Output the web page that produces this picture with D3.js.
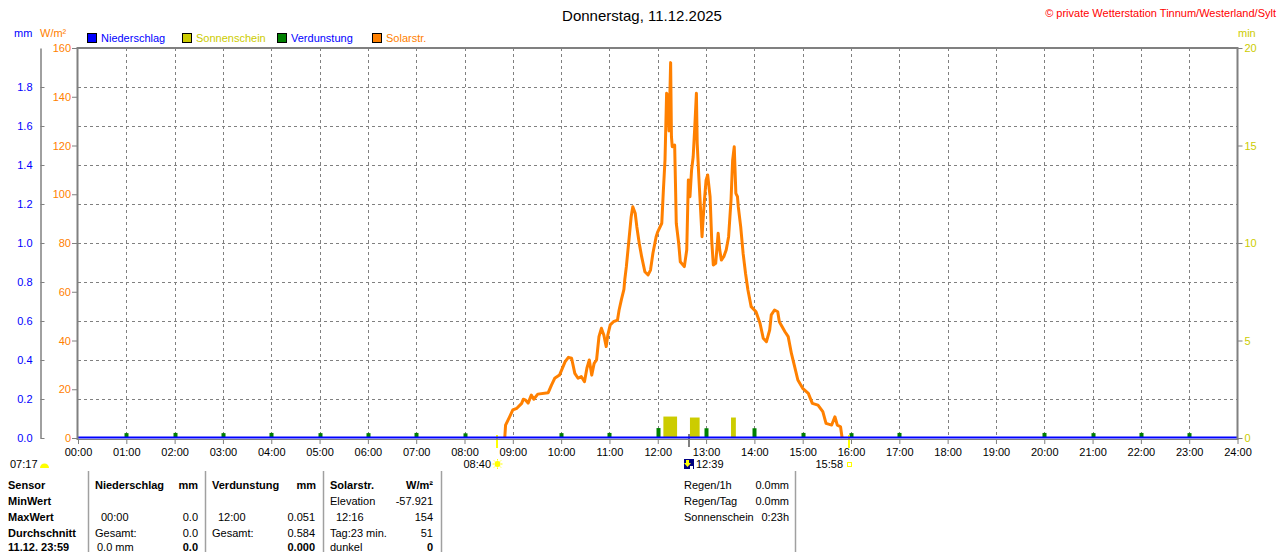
<!DOCTYPE html>
<html><head><meta charset="utf-8">
<script src="https://cdn.jsdelivr.net/npm/d3@7"></script>
<style>
body{margin:0;background:#fff;}
svg{display:block;font-family:"Liberation Sans",Arial,sans-serif;font-size:11px;}
</style>
</head><body>
<svg id="c" width="1280" height="552"></svg>
<script>
// ---------- DATA ----------
const title = "Donnerstag, 11.12.2025";
const copyright = "© private Wetterstation Tinnum/Westerland/Sylt";
const hourLabels = d3.range(0, 25).map(h => String(h).padStart(2, "0") + ":00");
const mmTicks = [0, 0.2, 0.4, 0.6, 0.8, 1.0, 1.2, 1.4, 1.6, 1.8];
const solarTicks = [0, 20, 40, 60, 80, 100, 120, 140, 160];
const minTicks = [0, 5, 10, 15, 20];
const legendNames = ["Niederschlag", "Sonnenschein", "Verdunstung", "Solarstr."];

const solarTimes = ["08:50","08:51","08:56","09:00","09:05","09:11","09:13","09:16","09:19","09:23","09:26","09:31","09:44","09:48","09:52","09:58",
"10:05","10:09","10:13","10:17","10:21","10:25","10:29","10:32","10:35","10:38","10:41","10:44","10:47","10:50","10:53","10:56","10:58",
"11:01","11:05","11:10","11:12","11:15","11:18","11:19","11:21","11:23","11:27","11:29","11:32","11:34","11:37","11:40","11:44","11:48","11:51","11:54","11:58",
"12:00","12:05","12:07","12:09","12:11","12:13","12:14","12:16","12:17","12:18","12:21","12:22","12:23","12:26","12:28","12:33","12:36","12:38","12:40","12:42","12:44","12:46","12:48","12:49","12:51","12:53","12:55","12:56","12:58",
"13:00","13:02","13:05","13:07","13:09","13:12","13:15","13:17","13:19","13:22","13:25","13:28","13:31","13:33","13:35","13:37","13:39","13:40","13:43","13:46","13:49","13:52","13:56",
"14:02","14:07","14:11","14:15","14:19","14:21","14:25","14:29","14:31","14:38","14:42","14:46","14:50","14:54",
"15:00","15:07","15:12","15:19","15:25","15:29","15:36","15:40","15:43","15:47","15:49"];
const solarValues = [0,5.3,8.7,11.5,12.2,14.2,15.9,15.5,14.3,17.6,15.9,18.0,18.6,21.7,24.5,25.8,
31.3,33.1,32.7,26.5,24.5,25.2,23.1,28.6,32.0,25.8,30.6,32.0,41.6,45.0,42.3,37.5,42.3,
46.4,47.7,48.4,52.5,57.0,61.0,64.8,70.3,77.1,90.8,94.9,92.2,86.7,79.9,74.4,68.2,66.9,68.9,75.8,82.6,
84.6,88.1,101.7,114.0,141.4,140.0,126.0,154.0,123.6,119.5,120.2,104.5,88.1,79.9,72.3,70.3,77.1,105.8,99.0,109.9,115.4,127.7,141.4,120.9,107.2,94.9,82.6,88.1,97.6,
105.8,107.9,99.0,81.2,71.0,71.7,84.0,77.1,73.0,74.4,77.1,82.6,97.6,114.0,119.5,100.4,99.0,94.9,86.7,75.8,67.6,60.7,53.9,
51.8,47.1,40.9,39.5,44.3,50.5,52.5,51.8,47.7,43.6,41.6,34.7,29.3,23.8,
20.4,18.3,14.2,13.5,10.8,6.0,5.3,8.7,5.3,4.6,0];

const sunStart = ["12:07", "12:40", "13:31"];
const sunEnd = ["12:24", "12:52", "13:37"];
const sunValues = [1.1, 1.05, 1.05];

const evapTimes = ["01:00","02:00","03:00","04:00","05:00","06:00","07:00","08:00","10:00","11:00","12:00","13:00","14:00","15:00","16:00","17:00","20:00","21:00","22:00","23:00"];
const evapValues = [0.025,0.026,0.025,0.026,0.025,0.025,0.026,0.024,0.025,0.026,0.051,0.050,0.050,0.026,0.025,0.026,0.026,0.025,0.026,0.025];

const sunrise = "08:40", sunset = "15:58", solarNoon = "12:39", moonTime = "07:17";

const sensorRows = ["Sensor", "MinWert", "MaxWert", "Durchschnitt", "11.12. 23:59"];
const niederRows = [["",""],["00:00","0.0"],["Gesamt:","0.0"],["0.0 mm","0.0"]];
const verdRows = [["",""],["12:00","0.051"],["Gesamt:","0.584"],["","0.000"]];
const solarRows = [["Elevation","-57.921"],["12:16","154"],["Tag:23 min.","51"],["dunkel","0"]];
const infoRows = [["Regen/1h","0.0mm"],["Regen/Tag","0.0mm"],["Sonnenschein","0:23h"]];

// ---------- SETUP ----------
const C = {orange:"#ff8000", yellow:"#cccc00", green:"#008000", blue:"#0000ff", grey:"#808080", red:"#ff0000"};
const t2h = s => { const [h, m] = s.split(":").map(Number); return h + m / 60; };
const svg = d3.select("#c");
const X0 = 78, X1 = 1237.5, Y0 = 438, Y1 = 48;
const x = d3.scaleLinear().domain([0, 24]).range([X0, X1]);
const yMM = d3.scaleLinear().domain([0, 2]).range([Y0, Y1]);
const ySol = d3.scaleLinear().domain([0, 160]).range([Y0, Y1]);
const yMin = d3.scaleLinear().domain([0, 20]).range([Y0, Y1]);

// title & header
svg.append("text").attr("x", 642).attr("y", 21).attr("text-anchor", "middle").style("font-size", "15px").attr("fill", "#000").text(title);
svg.append("text").attr("x", 1276).attr("y", 17).attr("text-anchor", "end").attr("fill", C.red).text(copyright);
svg.append("text").attr("x", 14).attr("y", 37).attr("fill", C.blue).text("mm");
svg.append("text").attr("x", 40).attr("y", 37).attr("fill", C.orange).text("W/m²");
svg.append("text").attr("x", 1238).attr("y", 37).attr("fill", C.yellow).text("min");

// legend
const legColors = [C.blue, C.yellow, C.green, C.orange];
const legText = [C.blue, C.yellow, C.blue, C.orange];
legendNames.forEach((n, i) => {
  const lx = 87 + i * 95;
  svg.append("rect").attr("x", lx + 0.5).attr("y", 33.5).attr("width", 9).attr("height", 9).attr("fill", legColors[i]).attr("stroke", "#000").attr("stroke-width", 1);
  svg.append("text").attr("x", lx + 14).attr("y", 42).attr("fill", legText[i]).text(n);
});

// grid
const grid = svg.append("g").attr("stroke", C.grey).attr("stroke-dasharray", "3,3").attr("stroke-width", 1).attr("shape-rendering", "crispEdges");
mmTicks.filter(v => v > 0).forEach(v => grid.append("line").attr("x1", X0).attr("x2", X1).attr("y1", Math.round(yMM(v)) + 0.5).attr("y2", Math.round(yMM(v)) + 0.5));
d3.range(1, 24).forEach(h => grid.append("line").attr("x1", Math.round(x(h)) + 0.5).attr("x2", Math.round(x(h)) + 0.5).attr("y1", Y1).attr("y2", Y0));

// sunshine bars
svg.append("g").selectAll("rect").data(sunStart).join("rect")
  .attr("x", (d, i) => x(t2h(d))).attr("width", (d, i) => x(t2h(sunEnd[i])) - x(t2h(d)))
  .attr("y", (d, i) => yMin(sunValues[i])).attr("height", (d, i) => Y0 - yMin(sunValues[i]))
  .attr("fill", C.yellow);

// evaporation markers
svg.append("g").selectAll("rect").data(evapTimes).join("rect")
  .attr("x", d => Math.round(x(t2h(d))) - 1.5).attr("width", 4)
  .attr("y", (d, i) => yMM(evapValues[i])).attr("height", (d, i) => Y0 - yMM(evapValues[i]))
  .attr("fill", C.green);

// solar line
const solarData = solarTimes.map((t, i) => [t2h(t), solarValues[i]]);
svg.append("path").datum(solarData)
  .attr("d", d3.line().x(d => x(d[0])).y(d => ySol(d[1])))
  .attr("fill", "none").attr("stroke", C.orange).attr("stroke-width", 3).attr("stroke-linejoin", "round");

// sunrise/sunset/noon markers
[sunrise, sunset].forEach(t =>
  svg.append("rect").attr("x", Math.round(x(t2h(t))) - 1).attr("y", 435).attr("width", 2).attr("height", 13).attr("fill", "#ffff00"));
svg.append("rect").attr("x", Math.round(x(t2h(solarNoon))) - 1).attr("y", 434).attr("width", 2).attr("height", 13).attr("fill", C.grey);

// baselines and border
svg.append("line").attr("x1", X0).attr("x2", X1).attr("y1", 439.5).attr("y2", 439.5).attr("stroke", C.grey).attr("stroke-width", 1);
svg.append("line").attr("x1", X0).attr("x2", X1).attr("y1", 437.5).attr("y2", 437.5).attr("stroke", C.blue).attr("stroke-width", 2);
svg.append("path").attr("d", `M${X0 - 0.5},${Y0 + 2}V${Y1}H${X1}V${Y0 + 2}`).attr("fill", "none").attr("stroke", C.grey).attr("stroke-width", 2);

// axes
function styleAxis(g, color) {
  g.attr("font-family", null).attr("font-size", null);
  g.selectAll("text").attr("fill", color).style("font-size", "11px");
  g.selectAll("line").attr("stroke", C.grey);
  g.select(".domain").attr("stroke", C.grey);
}
const axMM = svg.append("g").attr("transform", "translate(40.5,0)")
  .call(d3.axisLeft(yMM).tickValues(mmTicks).tickFormat(d3.format(".1f")).tickSizeInner(-4).tickSizeOuter(0).tickPadding(8));
styleAxis(axMM, C.blue);
axMM.select(".domain").attr("stroke-width", 1.5);

const axSol = svg.append("g").attr("transform", "translate(78,0)")
  .call(d3.axisLeft(ySol).tickValues(solarTicks).tickSize(6).tickPadding(1));
styleAxis(axSol, C.orange);
axSol.select(".domain").remove();

const axMin = svg.append("g").attr("transform", "translate(1237.5,0)")
  .call(d3.axisRight(yMin).tickValues(minTicks).tickSize(5).tickPadding(2));
styleAxis(axMin, C.yellow);
axMin.select(".domain").remove();

const axX = svg.append("g").attr("transform", "translate(0,439)")
  .call(d3.axisBottom(x).tickValues(d3.range(0, 25)).tickFormat(d => hourLabels[d]).tickSize(5).tickPadding(4));
styleAxis(axX, "#000");
axX.select(".domain").remove();

// sub-axis row
svg.append("text").attr("x", 10).attr("y", 468).text(moonTime);
svg.append("path").attr("d", "M40,468 A4.5,4.5 0 0 1 49,468 Z").attr("fill", "#ffff00");
svg.append("text").attr("x", 491).attr("y", 468).attr("text-anchor", "end").text(sunrise);
const sx = 497.5, sy = 464;
svg.append("circle").attr("cx", sx).attr("cy", sy).attr("r", 3).attr("fill", "#ffff00");
d3.range(8).forEach(k => { const a = k * Math.PI / 4;
  svg.append("line").attr("x1", sx + Math.cos(a) * 3.5).attr("y1", sy + Math.sin(a) * 3.5).attr("x2", sx + Math.cos(a) * 5).attr("y2", sy + Math.sin(a) * 5).attr("stroke", "#ffff00").attr("stroke-width", 1); });
svg.append("rect").attr("x", 684).attr("y", 459).attr("width", 10).attr("height", 10).attr("fill", "#000080");
svg.append("path").attr("d", "M686,460 h3 v3 h2 l-3.5,4 l-3.5,-4 h2 z").attr("fill", "#ffff00");
svg.append("rect").attr("x", 690).attr("y", 466).attr("width", 3).attr("height", 3).attr("fill", "#fff");
svg.append("text").attr("x", 696).attr("y", 468).text(solarNoon);
svg.append("text").attr("x", 843).attr("y", 468).attr("text-anchor", "end").text(sunset);
svg.append("rect").attr("x", 847.5).attr("y", 462.5).attr("width", 4).attr("height", 4).attr("fill", "none").attr("stroke", "#ffff00");

// table
const sep = svg.append("g").attr("stroke", "#a0a0a0").attr("stroke-width", 1.5);
[88.5, 205.5, 323.5, 441.5, 795.5].forEach(sx2 => sep.append("line").attr("x1", sx2).attr("x2", sx2).attr("y1", 471).attr("y2", 552));
const rowY = [489, 505, 521, 537, 551];
const T = (xx, yy, s, o = {}) => svg.append("text").attr("x", xx).attr("y", yy)
  .attr("text-anchor", o.end ? "end" : "start").attr("font-weight", o.bold ? "bold" : "normal").attr("fill", "#000").text(s);
sensorRows.forEach((s, i) => T(8, rowY[i], s, {bold: true}));
T(95, rowY[0], "Niederschlag", {bold: true}); T(198, rowY[0], "mm", {bold: true, end: true});
niederRows.forEach((r, i) => { if (r[0]) T(i === 1 ? 101 : (i === 3 ? 97 : 95), rowY[i + 1], r[0]); if (r[1]) T(198, rowY[i + 1], r[1], {end: true, bold: i === 3}); });
T(212, rowY[0], "Verdunstung", {bold: true}); T(316, rowY[0], "mm", {bold: true, end: true});
verdRows.forEach((r, i) => { if (r[0]) T(i === 1 ? 218 : 212, rowY[i + 1], r[0]); if (r[1]) T(315, rowY[i + 1], r[1], {end: true, bold: i === 3}); });
T(330, rowY[0], "Solarstr.", {bold: true}); T(433, rowY[0], "W/m²", {bold: true, end: true});
solarRows.forEach((r, i) => { T(i === 1 ? 336 : 330, rowY[i + 1], r[0]); T(433, rowY[i + 1], r[1], {end: true, bold: i === 3}); });
infoRows.forEach((r, i) => { T(684, rowY[i], r[0]); T(789, rowY[i], r[1], {end: true}); });
</script>
</body></html>
